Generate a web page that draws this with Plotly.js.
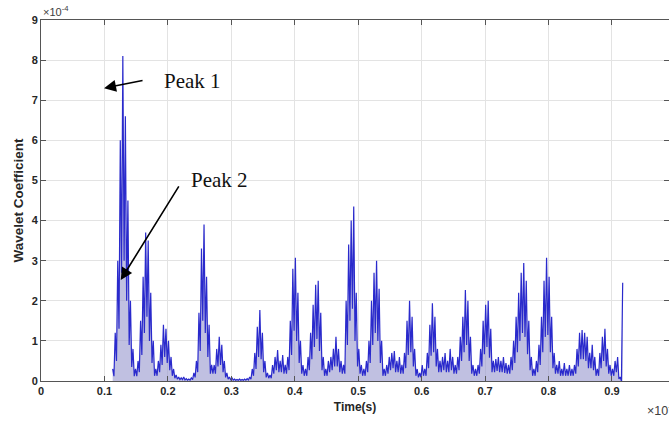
<!DOCTYPE html>
<html>
<head>
<meta charset="utf-8">
<script src="https://cdn.plot.ly/plotly-3.0.1.min.js"></script>
<style>html,body{margin:0;padding:0;background:#fff;}#chart{width:669px;height:421px;}</style>
</head>
<body>
<div id="chart"></div>
<script>
// Sampled wavelet coefficient (units of 1e-4), uniform sampling from t0 with step dt
const t0 = 0.113;
const dt = 0.002;
const coefE4 = [
0.3,0.12, 1.2,0.5, 3.0,1.3, 6.0,2.7, 8.1,3.0, 6.6,2.0, 4.5,0.9, 2.0,0.35, 0.8,0.12, 0.3,0.12,
0.5,0.22, 1.5,0.65, 2.6,1.2, 3.7,1.6, 3.5,1.0, 2.2,0.45, 1.0,0.13, 0.3,0.13, 0.5,0.22, 0.9,0.4,
1.4,0.6, 1.3,0.45, 1.0,0.27, 0.6,0.13, 0.3,0.07, 0.15,0.045, 0.1,0.035, 0.08,0.035, 0.1,0.027, 0.06,0.022,
0.05,0.022, 0.08,0.035, 0.2,0.09, 0.5,0.22, 1.7,0.75, 3.3,1.5, 3.9,1.2, 2.6,0.6, 1.4,0.18, 0.4,0.18,
0.4,0.18, 0.8,0.36, 1.1,0.4, 0.9,0.22, 0.5,0.09, 0.2,0.045, 0.1,0.035, 0.08,0.022, 0.05,0.018, 0.04,0.018,
0.05,0.018, 0.04,0.018, 0.05,0.022, 0.06,0.027, 0.1,0.045, 0.3,0.13, 0.7,0.3, 1.35,0.6, 1.77,0.54, 1.2,0.22,
0.5,0.09, 0.2,0.07, 0.15,0.07, 0.4,0.18, 0.6,0.27, 0.77,0.22, 0.5,0.22, 0.65,0.18, 0.4,0.18, 0.6,0.27,
1.5,0.65, 2.8,1.25, 3.07,1.0, 2.2,0.45, 1.0,0.18, 0.4,0.13, 0.3,0.13, 0.6,0.27, 1.2,0.54, 1.9,0.85,
2.4,1.05, 2.5,0.75, 1.7,0.27, 0.6,0.13, 0.3,0.13, 0.5,0.22, 0.6,0.27, 0.8,0.36, 1.1,0.36, 0.8,0.22,
0.5,0.18, 0.4,0.18, 2.0,0.9, 3.4,1.5, 4.0,1.8, 4.35,1.0, 2.2,0.36, 0.8,0.18, 0.4,0.13, 0.3,0.13,
0.5,0.22, 1.0,0.45, 2.0,0.9, 2.7,1.2, 3.0,1.0, 2.3,0.45, 1.0,0.13, 0.3,0.13, 0.4,0.18, 0.6,0.27,
0.7,0.32, 0.75,0.22, 0.5,0.22, 0.6,0.18, 0.4,0.18, 0.7,0.32, 1.5,0.65, 2.0,0.72, 1.6,0.36, 0.8,0.13,
0.3,0.09, 0.2,0.09, 0.4,0.13, 0.3,0.13, 0.7,0.32, 1.4,0.63, 1.94,0.72, 1.6,0.36, 0.8,0.22, 0.5,0.22,
0.6,0.27, 0.7,0.22, 0.5,0.22, 0.8,0.27, 0.6,0.18, 0.4,0.18, 0.6,0.27, 1.1,0.5, 1.6,0.72, 2.27,0.9,
2.0,0.5, 1.1,0.18, 0.4,0.13, 0.3,0.13, 0.4,0.18, 0.8,0.36, 1.5,0.67, 1.9,0.85, 2.0,0.58, 1.3,0.22,
0.5,0.22, 0.55,0.25, 0.6,0.22, 0.5,0.22, 0.6,0.2, 0.45,0.18, 0.4,0.18, 0.6,0.27, 1.0,0.45, 1.6,0.72,
2.2,1.0, 2.7,1.2, 2.94,1.1, 2.5,0.67, 1.5,0.27, 0.6,0.13, 0.3,0.13, 0.5,0.22, 0.9,0.4, 1.6,0.72,
2.5,1.1, 3.07,1.15, 2.6,0.72, 1.6,0.32, 0.7,0.18, 0.4,0.18, 0.5,0.13, 0.3,0.13, 0.45,0.13, 0.3,0.13,
0.4,0.13, 0.3,0.13, 0.4,0.18, 0.8,0.36, 1.2,0.54, 1.27,0.54, 1.2,0.5, 1.1,0.32, 0.7,0.32, 0.9,0.27,
0.6,0.13, 0.3,0.13, 0.7,0.32, 1.1,0.5, 1.3,0.36, 0.8,0.18, 0.4,0.13, 0.3,0.13, 0.5,0.22, 0.6,0.05,
0.1,0.0, 2.45
];
const xTickVals = [0, 0.1, 0.2, 0.3, 0.4, 0.5, 0.6, 0.7, 0.8, 0.9];
const yTickVals = [0, 1, 2, 3, 4, 5, 6, 7, 8, 9];
const peakLabels = ["Peak 1", "Peak 2"];
const peakHeadT = [0.0994, 0.1257];
const peakHeadV = [7.30, 2.52];
const peakTextT = [0.191, 0.234];
const peakTextV = [7.48, 5.02];

const axisFont = {family: "Liberation Sans, Arial, sans-serif", size: 11, color: "#262626"};

const trace = {
  type: "scatter", mode: "lines",
  x0: t0, dx: dt, y: coefE4,
  line: {color: "#2a2acc", width: 1.2},
  fill: "tozeroy", fillcolor: "rgba(150,150,205,0.6)",
  hoverinfo: "skip", showlegend: false
};

const annotations = [];
for (let i = 0; i < peakLabels.length; i++) {
  annotations.push({
    x: peakHeadT[i], y: peakHeadV[i], xref: "x", yref: "y",
    text: "", showarrow: true, arrowhead: 2, arrowsize: 1.5, arrowwidth: 1.6,
    arrowcolor: "#000", axref: "pixel", ayref: "pixel",
    ax: i === 0 ? 40 : 59, ay: i === 0 ? -8 : -95
  });
  annotations.push({
    x: peakTextT[i], y: peakTextV[i], xref: "x", yref: "y",
    text: peakLabels[i], showarrow: false, xanchor: "left", yanchor: "middle",
    font: {family: "Liberation Serif, Times New Roman, serif", size: 21, color: "#111"}
  });
}
annotations.push({
  xref: "paper", yref: "paper", x: 0, y: 1, xanchor: "left", yanchor: "bottom",
  text: "×10<sup>-4</sup>", showarrow: false,
  font: {family: "Liberation Sans, Arial, sans-serif", size: 11, color: "#404040"}
});
annotations.push({
  xref: "paper", yref: "paper", x: 0.962, y: -0.08, xanchor: "left", yanchor: "middle",
  text: "×10<sup>-3</sup>", showarrow: false,
  font: {family: "Liberation Sans, Arial, sans-serif", size: 12.5, color: "#404040"}
});

const layout = {
  width: 669, height: 421,
  margin: {l: 41, r: 0, t: 20, b: 40, pad: 0},
  paper_bgcolor: "#fff", plot_bgcolor: "#fff",
  showlegend: false,
  xaxis: {
    range: [0, 0.99], tickvals: xTickVals, ticktext: xTickVals.map(String),
    ticks: "inside", ticklen: 5, tickcolor: "#555", mirror: "ticks",
    showline: true, linecolor: "#555", linewidth: 1,
    showgrid: true, gridcolor: "#e3e3e3", zeroline: false,
    tickfont: Object.assign({}, axisFont, {weight: "bold"}),
    title: {text: "<b>Time(s)</b>", font: {family: axisFont.family, size: 12, color: "#262626"}, standoff: 6}
  },
  yaxis: {
    range: [0, 9], tickvals: yTickVals,
    ticks: "inside", ticklen: 5, tickcolor: "#555", mirror: "ticks",
    showline: true, linecolor: "#555", linewidth: 1,
    showgrid: true, gridcolor: "#e3e3e3", zeroline: false,
    tickfont: Object.assign({}, axisFont, {weight: "bold"}),
    title: {text: "<b>Wavelet Coefficient</b>", font: {family: axisFont.family, size: 13.5, color: "#262626"}, standoff: 4}
  },
  annotations: annotations
};

Plotly.newPlot("chart", [trace], layout, {staticPlot: true, displayModeBar: false});
</script>
</body>
</html>
